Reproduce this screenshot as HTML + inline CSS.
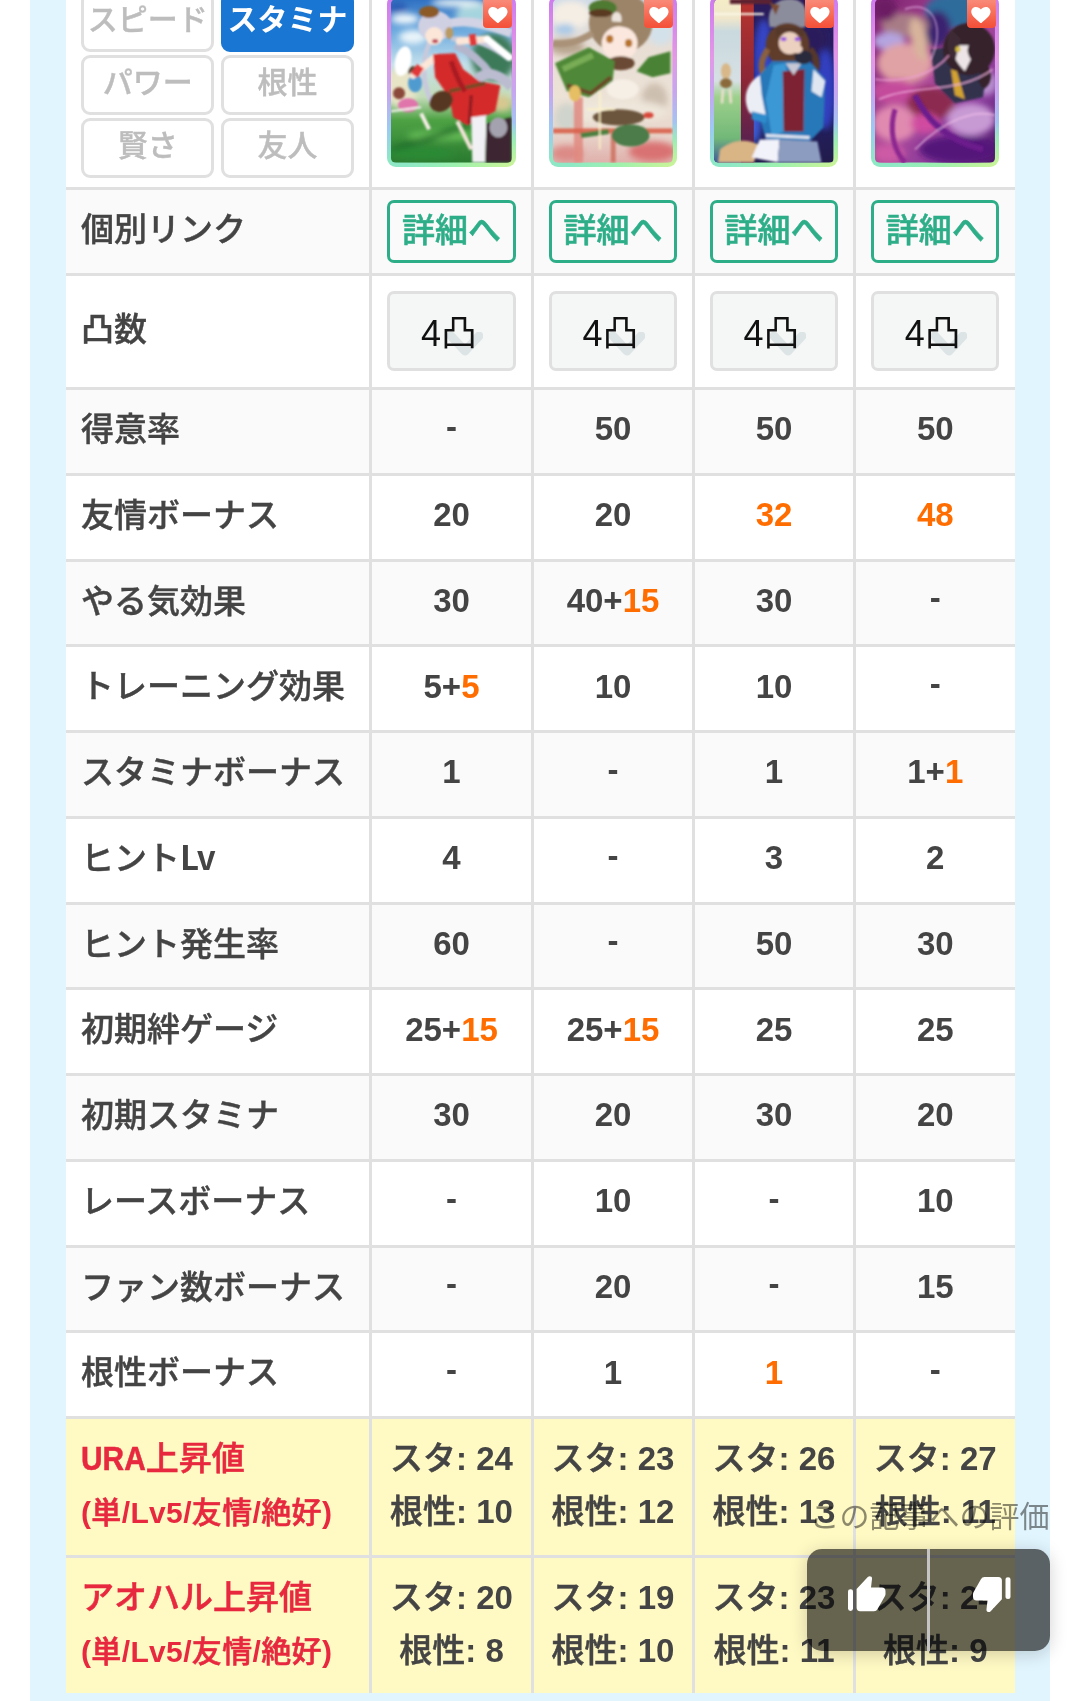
<!DOCTYPE html>
<html lang="ja">
<head>
<meta charset="utf-8">
<title>サポートカード比較</title>
<style>
*{box-sizing:border-box;margin:0;padding:0}
html,body{width:1080px;height:1701px;overflow:hidden;background:#fff}
body{position:relative;font-family:"Liberation Sans","Noto Sans CJK JP",sans-serif;color:#444;-webkit-font-smoothing:antialiased}
.band{position:absolute;left:30px;top:0;width:1020px;height:1701px;background:#e1f5fe}
.wrap{position:absolute;left:66px;top:-30px;width:948.5px;will-change:transform}
table{border-collapse:separate;border-spacing:0;table-layout:fixed;width:948.5px}
col.c0{width:303px}
col.cn{width:161.375px}
th,td{border-top:3px solid #e0e0e0;vertical-align:middle;background:#fff}
td{border-left:3px solid #e0e0e0;text-align:center;font-weight:700;font-size:33px}
th{text-align:left;padding-left:15px;font-size:33px;font-weight:500;white-space:nowrap;-webkit-text-stroke:.4px}
tr.g th,tr.g td{background:#fafafa}
tr.y th,tr.y td{background:#fff9c4}
tr.n th,tr.n td{height:85.75px;line-height:52px;padding-top:13.4px;padding-bottom:17.3px}
.t{position:relative}
th>.t{top:.7px}
.h{top:-2.5px}
.o{color:#ff6d00}
b.l{font-weight:700;-webkit-text-stroke:0;font-family:"Noto Sans CJK JP","Liberation Sans",sans-serif;letter-spacing:-.5px;line-height:0}
b.u{display:inline-block;transform:scale(.905,1.03);transform-origin:0 78%;margin-right:-6.8px}

/* row 0 */
tr.r0 th,tr.r0 td{border-top:0;height:217px;position:relative;padding:0}
.btn{position:absolute;width:133px;height:59.4px;border:3px solid #e0e0e0;border-radius:9px;background:#fff;color:#bdbdbd;font-size:30px;font-weight:500;text-align:center;line-height:50px;-webkit-text-stroke:.4px}
.btn.on{background:#1976d2;border-color:#1976d2;color:#fff;font-weight:700;-webkit-text-stroke:0}
.card{position:absolute;left:15.3px;right:15.3px;top:25px;height:171.5px;border-radius:9px;overflow:hidden;background:radial-gradient(ellipse 85% 26% at 100% 100%,rgba(206,244,150,1) 0%,rgba(160,242,170,.85) 55%,rgba(150,240,180,0) 100%),linear-gradient(180deg,#cd7aee 0%,#e398e6 36%,#c4a8f0 58%,#9ccaf2 78%,#8ee8c6 96%)}
.card>svg{position:absolute;left:4px;top:4px;width:calc(100% - 8px);height:163.5px;border-radius:5px}
.heart{position:absolute;right:3.4px;top:-2px;width:29px;height:35px;border-radius:4px;background:linear-gradient(180deg,#f98a78 20%,#f4523a 95%)}
.heart svg{position:absolute;left:4.6px;top:13.8px;width:19.8px;height:16.4px}

/* link row */
tr.lk th,tr.lk td{height:86px}
tr.lk th{padding-bottom:10px}
.dbtn{display:block;margin:0 15.3px;position:relative;top:0px;padding-top:1px;height:62.5px;border:3px solid #2eae88;border-radius:7px;color:#2eae88;font-size:33px;font-weight:500;line-height:54px;text-align:center;background:transparent;-webkit-text-stroke:.55px}
/* totsu row */
tr.ts th,tr.ts td{height:114px}
tr.ts th{padding-bottom:10px}
.sel{display:block;margin:0 15.3px;position:relative;top:-1px;padding-right:5px;height:80px;border:3px solid #e0e0e0;border-radius:7px;background:#f5f7f7;color:#111;font-size:36px;font-weight:400;line-height:79px;text-align:center}
.sel svg{position:absolute;left:57px;top:38px;width:36px;height:24px}

/* bottom rows */
tr.y th,tr.y td{height:138px;padding-top:0;padding-bottom:4px;line-height:53px}
tr.y th{color:#e7283e;font-weight:500;-webkit-text-stroke:.55px}
tr.y th b{font-weight:700;-webkit-text-stroke:0}
tr.y th b.u{-webkit-text-stroke:.5px}
tr.y th small{font-size:30px;letter-spacing:.35px}
tr.y td{font-weight:500;-webkit-text-stroke:.5px}
tr.y td b{font-weight:700;-webkit-text-stroke:0}

tr.y1 th,tr.y1 td{height:139px}
/* overlay */
.ov{position:absolute;z-index:5;left:0;top:0;will-change:transform}
.ovl{position:absolute;left:761.5px;top:1490.5px;width:288px;text-align:right;font-size:30px;line-height:52px;color:rgba(0,0,0,.45);white-space:nowrap}
.ovb{position:absolute;left:807px;top:1549px;width:243px;height:102px;border-radius:15px;background:rgba(0,0,0,.6);box-shadow:0 3px 18px rgba(0,0,0,.18)}
.ovd{position:absolute;left:120px;top:0;width:3px;height:102px;background:#c4c4c4}
.ovb svg{position:absolute;width:37.5px;height:35.2px;fill:#fff;overflow:visible}
</style>
</head>
<body>
<svg width="0" height="0" style="position:absolute"><defs><filter id="bl1" x="-10%" y="-10%" width="120%" height="120%"><feGaussianBlur stdDeviation="1.1"/></filter><filter id="bl2" x="-20%" y="-20%" width="140%" height="140%"><feGaussianBlur stdDeviation="3.2"/></filter></defs></svg>
<div class="band"></div>
<div class="wrap">
<table>
<colgroup><col class="c0"><col style="width:162px"><col style="width:161px"><col style="width:161px"><col style="width:161.5px"></colgroup>
<tbody>
<tr class="r0">
<th>
<div class="btn" style="left:15.3px;top:22.2px"><span class="t">スピード</span></div>
<div class="btn on" style="left:155px;top:22.2px"><span class="t">スタミナ</span></div>
<div class="btn" style="left:15.3px;top:85.2px"><span class="t">パワー</span></div>
<div class="btn" style="left:155px;top:85.2px"><span class="t">根性</span></div>
<div class="btn" style="left:15.3px;top:148.2px"><span class="t">賢さ</span></div>
<div class="btn" style="left:155px;top:148.2px"><span class="t">友人</span></div>
</th>
<td><div class="card c1"><svg viewBox="0 0 120 163" preserveAspectRatio="none"><defs><linearGradient id="g1" x1="0" y1="0" x2="0" y2="1"><stop offset="0" stop-color="#2f70c2"/><stop offset=".2" stop-color="#6facdf"/><stop offset=".4" stop-color="#c4e0ec"/><stop offset=".6" stop-color="#c3dcb8"/><stop offset=".74" stop-color="#4ea244"/><stop offset="1" stop-color="#2a7a30"/></linearGradient></defs>
<rect width="120" height="163" fill="url(#g1)"/>
<g filter="url(#bl2)">
<ellipse cx="14" cy="20" rx="14" ry="5" fill="#f4fafd"/><ellipse cx="22" cy="38" rx="14" ry="7" fill="#e9f4f9"/><ellipse cx="6" cy="8" rx="10" ry="5" fill="#2a5cb4"/>
<ellipse cx="94" cy="16" rx="30" ry="12" fill="#a6d4de"/><ellipse cx="66" cy="4" rx="26" ry="4" fill="#e6f2f4"/>
<ellipse cx="102" cy="58" rx="22" ry="24" fill="#3c7a5a"/>
<ellipse cx="10" cy="88" rx="16" ry="20" fill="#e8e4c6"/>
<ellipse cx="50" cy="136" rx="34" ry="5" fill="#66be56"/><path d="M0 150 L80 126" stroke="#1f6a2a" stroke-width="5"/>
<ellipse cx="30" cy="154" rx="34" ry="6" fill="#2b8a36"/>
<ellipse cx="110" cy="104" rx="10" ry="8" fill="#d8c890"/>
</g>
<g filter="url(#bl1)">
<ellipse cx="24" cy="84" rx="7" ry="9" fill="#4f9bd0"/><ellipse cx="22" cy="72" rx="5" ry="5" fill="#5a4632"/>
<ellipse cx="17" cy="106" rx="10" ry="7" fill="#e074ac"/><ellipse cx="8" cy="94" rx="6" ry="6" fill="#8a4a3a"/>
<path d="M30 114 L38 130" stroke="#f6eee8" stroke-width="4"/><path d="M0 112 L30 108" stroke="#f4f4f0" stroke-width="2"/>
<path d="M52 26 C75 18 96 26 120 34" stroke="#d2d3e4" stroke-width="9" fill="none"/>
<path d="M60 40 C80 38 100 46 118 60" stroke="#c6c8dc" stroke-width="5" fill="none"/>
<path d="M64 46 C78 52 90 62 100 76" stroke="#b4b6cc" stroke-width="8" fill="none"/>
<path d="M86 80 C97 70 110 76 120 88" stroke="#bbbcd0" stroke-width="10" fill="none"/>
<path d="M38 44 C28 70 34 90 42 106" stroke="#c8c9dc" stroke-width="5" fill="none"/>
<ellipse cx="44" cy="27" rx="17" ry="15" fill="#d0d0e3"/>
<ellipse cx="38" cy="13" rx="10" ry="6" fill="#8c5a28"/><ellipse cx="58" cy="34" rx="4" ry="6" fill="#b99a62"/>
<ellipse cx="43" cy="37" rx="9" ry="9" fill="#fbe6d8"/><ellipse cx="44" cy="42" rx="3" ry="2" fill="#c0485a"/>
<path d="M68 42 L96 40" stroke="#fbe6d8" stroke-width="7" stroke-linecap="round"/><rect x="78" y="35" width="7" height="11" fill="#e23838" transform="rotate(-8 82 40)"/>
<path d="M96 40 L118 58" stroke="#fff" stroke-width="7" stroke-linecap="round"/>
<path d="M22 76 L44 58" stroke="#fbe6d8" stroke-width="7" stroke-linecap="round"/><rect x="22" y="66" width="8" height="11" fill="#e23838" transform="rotate(35 26 72)"/>
<ellipse cx="12" cy="62" rx="8" ry="15" fill="#fff" transform="rotate(12 12 62)"/>
<path d="M42 55 L64 54 L72 70 L88 82 L109 86 L104 112 L76 126 L62 118 L58 98 L44 78 Z" fill="#d42a2c"/>
<path d="M58 92 L94 84" stroke="#7a4a28" stroke-width="4"/>
<path d="M60 62 C64 74 68 84 74 92" stroke="#a81e22" stroke-width="5" fill="none"/>
<path d="M80 96 L78 124" stroke="#8c1a20" stroke-width="3"/>
<ellipse cx="50" cy="102" rx="12" ry="10" fill="#573822" transform="rotate(-30 50 102)"/>
<path d="M80 118 L95 116 L94 163 L81 163 Z" fill="#f1f0f4"/>
<path d="M95 124 L120 118 L120 163 L94 163 Z" fill="#3c2830"/>
<ellipse cx="107" cy="128" rx="9" ry="10" fill="#a4a2ae"/>
<path d="M66 122 L80 150" stroke="#f4e4da" stroke-width="4"/>
</g></svg><div class="heart"><svg viewBox="0 0 20 17"><path d="M10 17 C4 12 0 8.6 0 4.9 C0 2.1 2.2 0 4.9 0 C6.9 0 8.9 1 10 2.7 C11.1 1 13.1 0 15.1 0 C17.8 0 20 2.1 20 4.9 C20 8.6 16 12 10 17Z" fill="#fff"/></svg></div></div></td>
<td><div class="card c2"><svg viewBox="0 0 120 163" preserveAspectRatio="none"><defs><linearGradient id="g2" x1="0" y1="0" x2="0" y2="1"><stop offset="0" stop-color="#cfdbe8"/><stop offset=".3" stop-color="#e8ded4"/><stop offset=".6" stop-color="#ece2d6"/><stop offset=".82" stop-color="#e8d6cc"/><stop offset="1" stop-color="#e0b0ac"/></linearGradient></defs>
<rect width="120" height="163" fill="url(#g2)"/>
<g filter="url(#bl2)">
<ellipse cx="18" cy="16" rx="20" ry="14" fill="#f5eee4"/><ellipse cx="12" cy="30" rx="10" ry="5" fill="#a4c7e8"/>
<ellipse cx="108" cy="34" rx="12" ry="12" fill="#d3e1ea"/>
<ellipse cx="14" cy="48" rx="18" ry="8" fill="#b9a690"/>
<ellipse cx="102" cy="100" rx="13" ry="16" fill="#cdbfb0"/>
<ellipse cx="60" cy="112" rx="55" ry="12" fill="#eee6da"/>
<ellipse cx="100" cy="152" rx="24" ry="10" fill="#d97272"/>
<ellipse cx="14" cy="154" rx="16" ry="8" fill="#dc8a86"/>
<ellipse cx="14" cy="118" rx="12" ry="14" fill="#cfd4cc"/>
</g>
<g filter="url(#bl1)">
<rect x="21" y="98" width="9" height="65" fill="#e08a80" opacity=".85"/>
<rect x="0" y="129" width="120" height="5" fill="#d9604a" opacity=".9"/>
<rect x="58" y="134" width="5" height="29" fill="#cc6a5a" opacity=".8"/>
<ellipse cx="68" cy="24" rx="32" ry="30" fill="#9c8468"/>
<path d="M40 34 C24 44 12 46 0 44" stroke="#a99278" stroke-width="7" fill="none"/>
<ellipse cx="50" cy="9" rx="14" ry="8" fill="#4f7a32"/><ellipse cx="48" cy="14" rx="12" ry="4" fill="#5a3a22"/>
<ellipse cx="64" cy="20" rx="5" ry="7" fill="#ece4dc"/>
<ellipse cx="67" cy="44" rx="18" ry="17" fill="#fbe7dd"/>
<ellipse cx="57" cy="40" rx="3.6" ry="4" fill="#b8742c"/><ellipse cx="76" cy="44" rx="3.6" ry="4" fill="#b8742c"/>
<path d="M48 34 C56 26 70 24 86 34 L86 24 L50 22 Z" fill="#9c8468"/>
<ellipse cx="68" cy="64" rx="14" ry="7" fill="#6a4a34"/>
<path d="M118 52 L96 58 L84 72 L100 78 L118 74 Z" fill="#4a8236"/>
<path d="M2 64 L36 48 L62 62 L60 82 L36 98 L14 92 Z" fill="#4f8838"/>
<path d="M10 70 L40 56" stroke="#78ac54" stroke-width="6"/>
<path d="M14 86 L38 94 L58 78" stroke="#6a4a2c" stroke-width="4" fill="none"/>
<ellipse cx="70" cy="90" rx="16" ry="10" fill="#f6efe6"/>
<ellipse cx="22" cy="94" rx="6" ry="8" fill="#e6be64"/>
<ellipse cx="66" cy="118" rx="26" ry="8" fill="#6c543c"/>
<ellipse cx="78" cy="136" rx="19" ry="11" fill="#4c7c4a"/>
<path d="M28 136 L56 132" stroke="#4c8040" stroke-width="5"/>
<path d="M47 92 L47 150 M34 110 L62 110" stroke="#fff4c8" stroke-width="1.6" opacity=".9"/>
<ellipse cx="96" cy="116" rx="5" ry="3" fill="#d84a3a"/>
</g></svg><div class="heart"><svg viewBox="0 0 20 17"><path d="M10 17 C4 12 0 8.6 0 4.9 C0 2.1 2.2 0 4.9 0 C6.9 0 8.9 1 10 2.7 C11.1 1 13.1 0 15.1 0 C17.8 0 20 2.1 20 4.9 C20 8.6 16 12 10 17Z" fill="#fff"/></svg></div></div></td>
<td><div class="card c3"><svg viewBox="0 0 120 163" preserveAspectRatio="none"><defs><linearGradient id="g3" x1="0" y1="0" x2="0" y2="1"><stop offset="0" stop-color="#2c1c58"/><stop offset=".5" stop-color="#22206c"/><stop offset="1" stop-color="#221c4c"/></linearGradient><linearGradient id="g3b" x1="0" y1="0" x2="0" y2="1"><stop offset="0" stop-color="#f5edc6"/><stop offset=".12" stop-color="#efe6cc"/><stop offset=".2" stop-color="#c9d9de"/><stop offset=".5" stop-color="#d6e0e4"/><stop offset=".6" stop-color="#9ed08c"/><stop offset=".85" stop-color="#72b878"/><stop offset="1" stop-color="#3e5a9c"/></linearGradient><linearGradient id="g3c" x1="0" y1="0" x2="0" y2="1"><stop offset="0" stop-color="#b8342e"/><stop offset=".5" stop-color="#8c2636"/><stop offset="1" stop-color="#4a2058"/></linearGradient></defs>
<rect width="120" height="163" fill="url(#g3)"/>
<g filter="url(#bl2)">
<ellipse cx="50" cy="60" rx="10" ry="40" fill="#3444c4"/><ellipse cx="112" cy="90" rx="10" ry="40" fill="#3040c0"/>
<ellipse cx="100" cy="40" rx="14" ry="16" fill="#2a1c5c"/><ellipse cx="40" cy="120" rx="8" ry="24" fill="#3a5ad0"/>
</g>
<rect x="0" y="0" width="29" height="163" fill="url(#g3b)"/>
<rect x="27" y="0" width="13" height="163" fill="url(#g3c)"/>
<g filter="url(#bl1)">
<rect x="16" y="0" width="42" height="5" fill="#5c2030"/>
<rect x="0" y="14" width="50" height="2" fill="#fbf6e6"/>
<ellipse cx="12" cy="72" rx="5" ry="8" fill="#d8b888"/><ellipse cx="12" cy="84" rx="6" ry="5" fill="#8a6a3a"/><path d="M9 90 L8 104 M16 90 L17 104" stroke="#f0e0d0" stroke-width="2.5"/>
<path d="M6 150 C20 138 36 140 46 146 L40 163 L4 163 Z" fill="#d9b484"/>
<path d="M56 28 C52 10 62 0 76 0 C90 0 96 10 92 28 Z" fill="#8b8c9c"/>
<path d="M56 4 L62 16 L66 6 Z" fill="#7a4a30"/>
<ellipse cx="74" cy="46" rx="22" ry="22" fill="#5e3e2c"/>
<path d="M54 50 C48 60 46 66 50 76" stroke="#8a6040" stroke-width="6" fill="none"/>
<path d="M96 50 C104 58 104 68 100 76" stroke="#56382a" stroke-width="7" fill="none"/>
<ellipse cx="76" cy="44" rx="11" ry="11" fill="#ecd0c0"/>
<path d="M62 38 C70 30 82 30 90 38 L90 28 L62 28 Z" fill="#56382a"/>
<ellipse cx="70" cy="40" rx="3" ry="2" fill="#9a5ae0"/><ellipse cx="84" cy="40" rx="3" ry="2" fill="#9a5ae0"/>
<path d="M44 78 L58 62 L96 62 L112 80 L110 128 L96 142 L52 140 L44 112 Z" fill="#2878b8"/>
<path d="M60 66 L72 64 L78 130 L58 136 L52 100 Z" fill="#3a98d4"/>
<path d="M69 72 L91 70 L90 132 L70 132 Z" fill="#7c2432"/>
<path d="M72 64 L80 76 L88 64 Z" fill="#c8c8d4"/>
<path d="M46 76 C32 84 28 100 36 114 L52 116 L48 96 Z" fill="#eceef6"/>
<path d="M100 70 L112 82 L108 98 L98 92 Z" fill="#dfe6f2"/>
<path d="M38 112 L54 116 L52 124 L38 120 Z" fill="#2f8ccc"/>
<ellipse cx="90" cy="58" rx="9" ry="7" fill="#2c2c3c"/><ellipse cx="84" cy="50" rx="5" ry="4" fill="#ecd0c0"/>
<path d="M52 136 L96 138" stroke="#e4e8f2" stroke-width="3"/>
<path d="M46 140 L66 140 L64 163 L38 158 Z" fill="#f2f2fa"/>
<path d="M66 140 L104 142 L108 163 L64 163 Z" fill="#8c9cc0"/>
</g></svg><div class="heart"><svg viewBox="0 0 20 17"><path d="M10 17 C4 12 0 8.6 0 4.9 C0 2.1 2.2 0 4.9 0 C6.9 0 8.9 1 10 2.7 C11.1 1 13.1 0 15.1 0 C17.8 0 20 2.1 20 4.9 C20 8.6 16 12 10 17Z" fill="#fff"/></svg></div></div></td>
<td><div class="card c4"><svg viewBox="0 0 120 163" preserveAspectRatio="none"><defs><linearGradient id="g4" x1="0" y1="0" x2="1" y2="1"><stop offset="0" stop-color="#7c2270"/><stop offset=".45" stop-color="#b04a98"/><stop offset=".75" stop-color="#8a3c9c"/><stop offset="1" stop-color="#4a1868"/></linearGradient></defs>
<rect width="120" height="163" fill="url(#g4)"/>
<g filter="url(#bl2)">
<ellipse cx="80" cy="12" rx="30" ry="18" fill="#2f6c9c"/><ellipse cx="62" cy="30" rx="14" ry="18" fill="#3a2070"/>
<ellipse cx="30" cy="26" rx="24" ry="12" fill="#a87c86"/><ellipse cx="10" cy="10" rx="12" ry="12" fill="#6c1c64"/>
<ellipse cx="14" cy="42" rx="16" ry="9" fill="#b4a4e0"/>
<ellipse cx="30" cy="64" rx="28" ry="20" fill="#e0a2a4"/>
<ellipse cx="44" cy="40" rx="8" ry="22" fill="#d8b49c" transform="rotate(-14 44 40)"/>
<ellipse cx="20" cy="92" rx="22" ry="12" fill="#c44c9c"/>
<ellipse cx="20" cy="124" rx="22" ry="18" fill="#e08ab0"/>
<ellipse cx="56" cy="104" rx="24" ry="16" fill="#8c2c50"/>
<ellipse cx="50" cy="124" rx="14" ry="10" fill="#d04ca0"/>
<ellipse cx="96" cy="120" rx="24" ry="16" fill="#c89ad4"/>
<ellipse cx="84" cy="150" rx="40" ry="14" fill="#54187a"/>
<ellipse cx="14" cy="154" rx="16" ry="10" fill="#cc5aa4"/>
<ellipse cx="110" cy="84" rx="12" ry="12" fill="#b890d0"/>
</g>
<g filter="url(#bl1)">
<path d="M56 50 L74 48 L112 70 L108 98 L80 104 L60 84 Z" fill="#33304e"/>
<ellipse cx="94" cy="50" rx="26" ry="26" fill="#34232c"/>
<path d="M104 60 C112 72 114 80 106 86" stroke="#34232c" stroke-width="10" fill="none"/>
<path d="M74 46 C78 56 82 64 90 72 L96 60 C92 54 92 50 94 46 Z" fill="#ece4e6"/>
<path d="M76 30 C70 44 72 56 80 62 L86 40 Z" fill="#3c2a34"/>
<ellipse cx="83" cy="50" rx="2.5" ry="3" fill="#d8c040"/>
<path d="M76 70 L82 72 L90 100 L80 96 Z" fill="#d2a232"/>
<path d="M40 96 C52 120 70 140 108 150" stroke="#6c1c8c" stroke-width="6" fill="none"/>
<path d="M20 110 C14 130 18 150 30 163" stroke="#8c2890" stroke-width="5" fill="none"/>
<path d="M0 80 C30 84 60 74 74 56" stroke="#f0a0d8" stroke-width="1.6" fill="none" opacity=".8"/>
<path d="M4 100 C40 84 84 96 118 70" stroke="#f4b4e0" stroke-width="1.6" fill="none" opacity=".8"/>
<path d="M30 10 C60 0 70 30 56 60" stroke="#e8b8e8" stroke-width="1.4" fill="none" opacity=".7"/>
<path d="M40 150 C70 120 100 110 120 116" stroke="#f0c0e8" stroke-width="1.6" fill="none" opacity=".7"/>
</g></svg><div class="heart"><svg viewBox="0 0 20 17"><path d="M10 17 C4 12 0 8.6 0 4.9 C0 2.1 2.2 0 4.9 0 C6.9 0 8.9 1 10 2.7 C11.1 1 13.1 0 15.1 0 C17.8 0 20 2.1 20 4.9 C20 8.6 16 12 10 17Z" fill="#fff"/></svg></div></div></td>
</tr>
<tr class="lk g">
<th><span class="t">個別リンク</span></th>
<td><a class="dbtn"><span class="t">詳細へ</span></a></td>
<td><a class="dbtn"><span class="t">詳細へ</span></a></td>
<td><a class="dbtn"><span class="t">詳細へ</span></a></td>
<td><a class="dbtn"><span class="t">詳細へ</span></a></td>
</tr>
<tr class="ts">
<th><span class="t">凸数</span></th>
<td><div class="sel"><svg viewBox="0 0 36 24"><path d="M4 4 L18 19 L32 4" fill="none" stroke="#dde4e6" stroke-width="9" stroke-linecap="round" stroke-linejoin="round"/></svg><span class="t">4凸</span></div></td>
<td><div class="sel"><svg viewBox="0 0 36 24"><path d="M4 4 L18 19 L32 4" fill="none" stroke="#dde4e6" stroke-width="9" stroke-linecap="round" stroke-linejoin="round"/></svg><span class="t">4凸</span></div></td>
<td><div class="sel"><svg viewBox="0 0 36 24"><path d="M4 4 L18 19 L32 4" fill="none" stroke="#dde4e6" stroke-width="9" stroke-linecap="round" stroke-linejoin="round"/></svg><span class="t">4凸</span></div></td>
<td><div class="sel"><svg viewBox="0 0 36 24"><path d="M4 4 L18 19 L32 4" fill="none" stroke="#dde4e6" stroke-width="9" stroke-linecap="round" stroke-linejoin="round"/></svg><span class="t">4凸</span></div></td>
</tr>
<tr class="n g"><th><span class="t">得意率</span></th><td><span class="t h">-</span></td><td><span class="t">50</span></td><td><span class="t">50</span></td><td><span class="t">50</span></td></tr>
<tr class="n"><th><span class="t">友情ボーナス</span></th><td><span class="t">20</span></td><td><span class="t">20</span></td><td><span class="t o">32</span></td><td><span class="t o">48</span></td></tr>
<tr class="n g"><th><span class="t">やる気効果</span></th><td><span class="t">30</span></td><td><span class="t">40+<span class="o">15</span></span></td><td><span class="t">30</span></td><td><span class="t h">-</span></td></tr>
<tr class="n"><th><span class="t">トレーニング効果</span></th><td><span class="t">5+<span class="o">5</span></span></td><td><span class="t">10</span></td><td><span class="t">10</span></td><td><span class="t h">-</span></td></tr>
<tr class="n g"><th><span class="t">スタミナボーナス</span></th><td><span class="t">1</span></td><td><span class="t h">-</span></td><td><span class="t">1</span></td><td><span class="t">1+<span class="o">1</span></span></td></tr>
<tr class="n"><th><span class="t">ヒント<b class="l">Lv</b></span></th><td><span class="t">4</span></td><td><span class="t h">-</span></td><td><span class="t">3</span></td><td><span class="t">2</span></td></tr>
<tr class="n g"><th><span class="t">ヒント発生率</span></th><td><span class="t">60</span></td><td><span class="t h">-</span></td><td><span class="t">50</span></td><td><span class="t">30</span></td></tr>
<tr class="n"><th><span class="t">初期絆ゲージ</span></th><td><span class="t">25+<span class="o">15</span></span></td><td><span class="t">25+<span class="o">15</span></span></td><td><span class="t">25</span></td><td><span class="t">25</span></td></tr>
<tr class="n g"><th><span class="t">初期スタミナ</span></th><td><span class="t">30</span></td><td><span class="t">20</span></td><td><span class="t">30</span></td><td><span class="t">20</span></td></tr>
<tr class="n"><th><span class="t">レースボーナス</span></th><td><span class="t h">-</span></td><td><span class="t">10</span></td><td><span class="t h">-</span></td><td><span class="t">10</span></td></tr>
<tr class="n g"><th><span class="t">ファン数ボーナス</span></th><td><span class="t h">-</span></td><td><span class="t">20</span></td><td><span class="t h">-</span></td><td><span class="t">15</span></td></tr>
<tr class="n"><th><span class="t">根性ボーナス</span></th><td><span class="t h">-</span></td><td><span class="t">1</span></td><td><span class="t o">1</span></td><td><span class="t h">-</span></td></tr>
<tr class="y y1">
<th><span class="t"><b class="u">URA</b>上昇値<br><small><b>(</b>単<b>/Lv5/</b>友情<b>/</b>絶好<b>)</b></small></span></th>
<td><span class="t">スタ<b>: 24</b><br>根性<b>: 10</b></span></td>
<td><span class="t">スタ<b>: 23</b><br>根性<b>: 12</b></span></td>
<td><span class="t">スタ<b>: 26</b><br>根性<b>: 13</b></span></td>
<td><span class="t">スタ<b>: 27</b><br>根性<b>: 11</b></span></td>
</tr>
<tr class="y">
<th><span class="t">アオハル上昇値<br><small><b>(</b>単<b>/Lv5/</b>友情<b>/</b>絶好<b>)</b></small></span></th>
<td><span class="t">スタ<b>: 20</b><br>根性<b>: 8</b></span></td>
<td><span class="t">スタ<b>: 19</b><br>根性<b>: 10</b></span></td>
<td><span class="t">スタ<b>: 23</b><br>根性<b>: 11</b></span></td>
<td><span class="t">スタ<b>: 24</b><br>根性<b>: 9</b></span></td>
</tr>
</tbody>
</table>
</div>
<div class="ov">
<div class="ovl">この記事への評価</div>
<div class="ovb">
<div class="ovd"></div>
<svg style="left:40.8px;top:26.8px" viewBox="0 0 37.5 35.2"><rect x="0" y="13.2" width="5" height="21.8" rx="2.5"/><path d="M8.6 13 L19.8 1 Q21.6 -0.6 23.4 0.8 Q24.3 1.6 24 3 L23 11.6 L33.8 11.6 Q37.6 11.8 37.5 15.6 L37.5 18 Q37.5 19 37 20 L29.6 33 Q28.4 35.2 26 35.2 L12.2 35.2 Q8.6 35.2 8.6 31.6 Z"/></svg>
<svg style="left:165.7px;top:27.6px" viewBox="0 0 37.5 35.2"><g transform="rotate(180 18.75 17.6)"><rect x="0" y="13.2" width="5" height="21.8" rx="2.5"/><path d="M8.6 13 L19.8 1 Q21.6 -0.6 23.4 0.8 Q24.3 1.6 24 3 L23 11.6 L33.8 11.6 Q37.6 11.8 37.5 15.6 L37.5 18 Q37.5 19 37 20 L29.6 33 Q28.4 35.2 26 35.2 L12.2 35.2 Q8.6 35.2 8.6 31.6 Z"/></g></svg>
</div>
</div>
</body>
</html>
